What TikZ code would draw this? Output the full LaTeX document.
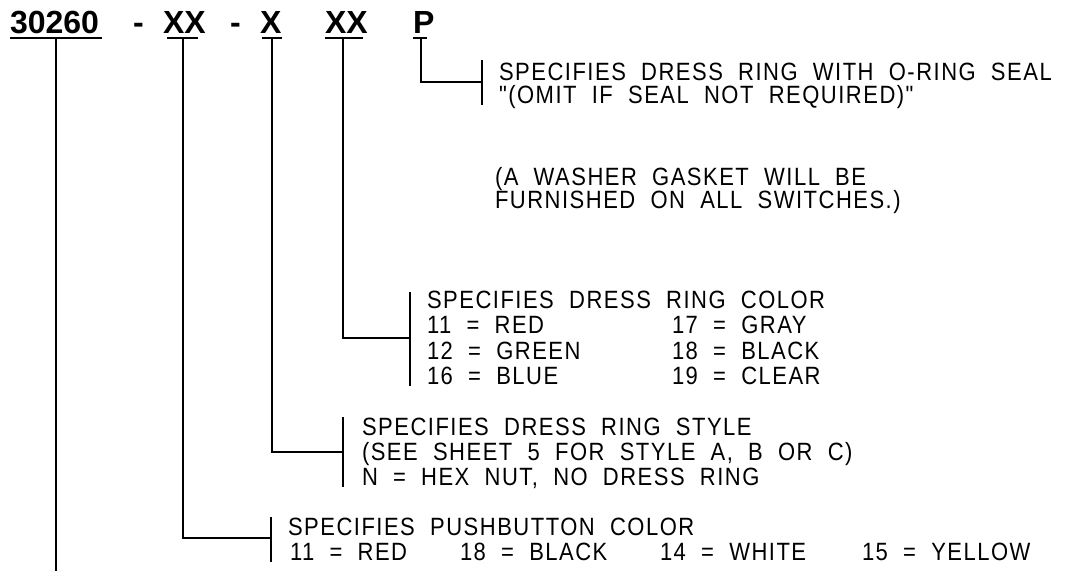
\documentclass[tikz,border=0pt]{standalone}
\usepackage{fontspec}
\setmainfont{Liberation Sans}
\newfontfamily\lbfont{Liberation Sans}[FakeStretch=0.88, LetterSpace=6, WordSpace=2]
\newfontfamily\hdfont{Liberation Sans}
\begin{document}
\begin{tikzpicture}[x=1pt,y=-1pt,
  lbl/.style={anchor=base west, inner sep=0pt, outer sep=0pt, font=\lbfont\fontsize{25}{30}\selectfont},
  hdr/.style={anchor=base west, inner sep=0pt, outer sep=0pt, font=\hdfont\bfseries\fontsize{32}{36}\selectfont},
  lead/.style={line width=2.2pt, line cap=butt, line join=miter},
  barline/.style={line width=2.4pt},
  uline/.style={line width=2pt}]
\useasboundingbox (0,0) rectangle (1076,571);
% header
\node[hdr] (h1) at (10,33) {30260};
\node[hdr] (d1) at (133,33) {-};
\node[hdr] (h2) at (163,33) {XX};
\node[hdr] (d2) at (230,33) {-};
\node[hdr] (h3) at (260,33) {X};
\node[hdr] (h4) at (325,33) {XX};
\node[hdr] (h5) at (413,33) {P};
% underlines
\draw[uline] (10,38) -- (102,38);
\draw[uline] (167,38) -- (198,38);
\draw[uline] (262,38) -- (282,38);
\draw[uline] (325,38) -- (363,38);
\draw[uline] (413,38) -- (427,38);
% leader start points
\coordinate (t1) at (56,37);
\coordinate (t2) at (183,37);
\coordinate (t3) at (272,37);
\coordinate (t4) at (343,37);
\coordinate (t5) at (421,37);
% bars
\coordinate (pA) at (482,60); \coordinate (pB) at (482,105); \coordinate (pM) at (482,82);
\coordinate (cA) at (410,292); \coordinate (cB) at (410,386); \coordinate (cM) at (410,338);
\coordinate (sA) at (343,417); \coordinate (sB) at (343,487); \coordinate (sM) at (343,452);
\coordinate (bA) at (271,517); \coordinate (bB) at (271,562); \coordinate (bM) at (271,538);
\coordinate (e1) at (56,571);
\draw[barline] (pA) -- (pB);
\draw[barline] (cA) -- (cB);
\draw[barline] (sA) -- (sB);
\draw[barline] (bA) -- (bB);
% leaders
\draw[lead] (t1) -- (e1);
\draw[lead] (t2) |- (bM);
\draw[lead] (t3) |- (sM);
\draw[lead] (t4) |- (cM);
\draw[lead] (t5) |- (pM);
% P block
\node[lbl] (p1) at (499,80) {SPECIFIES DRESS RING WITH O-RING SEAL};
\node[lbl] (p2) at (499,103) {"(OMIT IF SEAL NOT REQUIRED)"};
\node[lbl] (w1) at (495,185) {(A WASHER GASKET WILL BE};
\node[lbl] (w2) at (495,208) {FURNISHED ON ALL SWITCHES.)};
% color block
\node[lbl] (c0) at (427,308) {SPECIFIES DRESS RING COLOR};
\node[lbl] (c1) at (427,333) {11 = RED};
\node[lbl] (c2) at (427,359) {12 = GREEN};
\node[lbl] (c3) at (427,384) {16 = BLUE};
\node[lbl] (c4) at (672,333) {17 = GRAY};
\node[lbl] (c5) at (672,359) {18 = BLACK};
\node[lbl] (c6) at (672,384) {19 = CLEAR};
% style block
\node[lbl] (s0) at (362,435) {SPECIFIES DRESS RING STYLE};
\node[lbl] (s1) at (362,460) {(SEE SHEET 5 FOR STYLE A, B OR C)};
\node[lbl] (s2) at (362,485) {N = HEX NUT, NO DRESS RING};
% pushbutton block
\node[lbl] (b0) at (288,535) {SPECIFIES PUSHBUTTON COLOR};
\node[lbl] (b1) at (290,560) {11 = RED};
\node[lbl] (b2) at (460,560) {18 = BLACK};
\node[lbl] (b3) at (660,560) {14 = WHITE};
\node[lbl] (b4) at (862,560) {15 = YELLOW};
\end{tikzpicture}
\end{document}
